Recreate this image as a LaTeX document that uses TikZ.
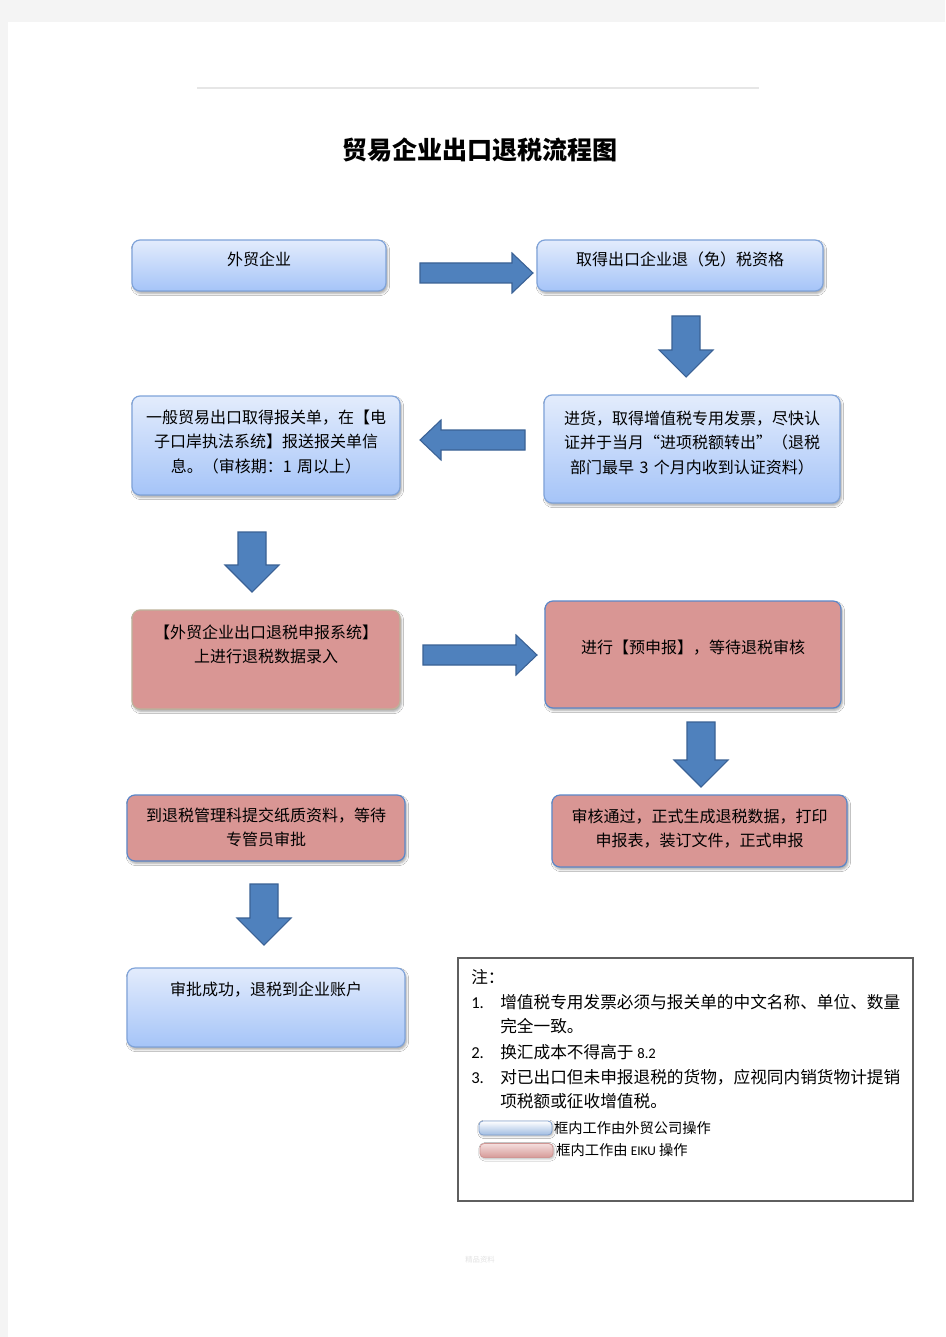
\documentclass[tikz,border=0pt]{standalone}
\usepackage{fontspec}
\newfontfamily\cjk{Noto Sans CJK SC}
\newfontfamily\latinsans{Carlito}
\usetikzlibrary{positioning,shadows.blur}

\definecolor{pagegray}{HTML}{F4F4F4}
\definecolor{boxtop}{HTML}{E3ECFC}
\definecolor{boxbottom}{HTML}{A5C4F8}
\definecolor{boxedge}{HTML}{7FA3D9}
\definecolor{pinkfill}{HTML}{D99694}
\definecolor{pinkedge}{HTML}{5B87C8}
\definecolor{khakiedge}{HTML}{BDB39B}
\definecolor{arrowblue}{HTML}{4F81BD}
\definecolor{arrowedge}{HTML}{3A6195}

\tikzset{
  box/.style={rounded corners=6pt, line width=0.9pt, inner sep=0pt, align=center, anchor=base,
    font=\cjk\fontsize{12}{18.4}\selectfont,
    blur shadow={shadow xshift=1pt, shadow yshift=-1.8pt, shadow blur steps=4, shadow opacity=35}},
  bluebox/.style={box, draw=boxedge, top color=boxtop, bottom color=boxbottom},
  pinkbox/.style={box, draw=pinkedge, fill=pinkfill},
  blockarrow/.style={fill=arrowblue, draw=arrowedge, line width=0.8pt, line join=miter},
  pics/downarr/.style={code={
    \draw[blockarrow] (-14,0) -- (14,0) -- (14,#1-27) -- (27,#1-27) -- (0,#1) -- (-27,#1-27) -- (-14,#1-27) -- cycle;}},
  pics/rightarr/.style={code={
    \draw[blockarrow] (0,-10) -- (#1-21,-10) -- (#1-21,-20) -- (#1,0) -- (#1-21,20) -- (#1-21,10) -- (0,10) -- cycle;}},
  notetext/.style={anchor=base west, inner sep=0pt, font=\cjk\fontsize{12.5}{16}\selectfont},
  numtext/.style={anchor=base west, inner sep=0pt, font=\latinsans\fontsize{12.5}{14}\selectfont},
  legendbar/.style={rounded corners=3pt, line width=0.6pt, minimum width=54.75pt, minimum height=10.5pt, inner sep=0pt,
    blur shadow={shadow xshift=0.8pt, shadow yshift=-1pt, shadow blur steps=3, shadow opacity=30}},
  legendtext/.style={inner sep=0pt, font=\cjk\fontsize{10.7}{13}\selectfont}
}

\begin{document}
\begin{tikzpicture}[x=0.75pt, y=-0.75pt]

\useasboundingbox (0,0) rectangle (945,1337);
\fill[pagegray] (0,0) rectangle (945,1337);
\fill[white] (8,22) rectangle (945,1337);
\draw[color={rgb,255:red,230;green,230;blue,230}, line width=0.8pt] (197,88) -- (759,88);

\node[font=\cjk\bfseries\fontsize{18.8}{22}\selectfont] (title) at (480,150) {贸易企业出口退税流程图};

\node[bluebox, text width=190.5pt, text height=19.5pt, text depth=18.75pt] (waimao) at (259,266) {外贸企业};
\node[bluebox, text width=214.5pt, text height=19.5pt, text depth=18.75pt] (zige) at (680,266) {取得出口企业退（免）税资格};
\node[bluebox, text width=222pt, text height=21.75pt, text depth=59.25pt] (jinhuo) at (692,424)
  {进货，取得增值税专用发票，尽快认\\证并于当月“进项税额转出”（退税\\部门最早 3 个月内收到认证资料）};
\node[bluebox, text width=201pt, text height=20.25pt, text depth=54pt] (baoguan) at (266,423)
  {一般贸易出口取得报关单，在【电\\子口岸执法系统】报送报关单信\\息。（审核期：1 周以上）};
\node[pinkbox, draw=khakiedge, text width=201pt, text height=21pt, text depth=53.25pt] (luru) at (266,638)
  {【外贸企业出口退税申报系统】\\上进行退税数据录入};
\node[pinkbox, text width=222pt, text height=39pt, text depth=41.25pt] (yushen) at (693,653) {进行【预申报】，等待退税审核};
\node[pinkbox, text width=221.25pt, text height=20.25pt, text depth=33.75pt] (shenbao) at (699.5,822)
  {审核通过，正式生成退税数据，打印\\申报表，装订文件，正式申报};
\node[pinkbox, text width=208.5pt, text height=19.5pt, text depth=30pt] (tijiao) at (266,821)
  {到退税管理科提交纸质资料，等待\\专管员审批};
\node[bluebox, text width=208.5pt, text height=20.25pt, text depth=39pt] (chenggong) at (266,995) {审批成功，退税到企业账户};

\pic at (420,273) {rightarr=113};
\pic at (686,316) {downarr=61};
\pic[xscale=-1] at (525,440) {rightarr=105};
\pic at (252,532) {downarr=60};
\pic at (423,655) {rightarr=114};
\pic at (701,722) {downarr=65};
\pic at (264,884) {downarr=61};

\node[draw={rgb,255:red,95;green,95;blue,95}, line width=0.8pt, minimum width=341.25pt, minimum height=182.25pt, inner sep=0pt] (note) at (685.5,1079.5) {};
\node[notetext] (zhu) at (471,983.5) {注：};
\node[numtext] (num1) at (471,1008.5) {1.};
\node[notetext] (item1a) at (500,1008.5) {增值税专用发票必须与报关单的中文名称、单位、数量};
\node[notetext] (item1b) at (500,1032.5) {完全一致。};
\node[numtext] (num2) at (471,1058.5) {2.};
\node[notetext] (item2) at (500,1058.5) {换汇成本不得高于 {\latinsans\fontsize{11}{14}\selectfont 8.2}};
\node[numtext] (num3) at (471,1083.5) {3.};
\node[notetext] (item3a) at (500,1083.5) {对已出口但未申报退税的货物，应视同内销货物计提销};
\node[notetext] (item3b) at (500,1107.5) {项税额或征收增值税。};

\node[legendbar, draw={rgb,255:red,130;green,160;blue,205}, top color=white, bottom color={rgb,255:red,160;green,188;blue,226}] (keyblue) at (515.5,1128) {};
\node[legendtext, right=1pt of keyblue] (keybluetext) {框内工作由外贸公司操作};
\node[legendbar, draw={rgb,255:red,208;green,150;blue,148}, top color={rgb,255:red,244;green,222;blue,221}, bottom color={rgb,255:red,214;green,154;blue,152}] (keypink) at (516.5,1150.5) {};
\node[legendtext, right=2pt of keypink] (keypinktext) {框内工作由 {\latinsans\fontsize{10}{13}\selectfont EIKU} 操作};

\node[text={rgb,255:red,226;green,226;blue,226}, font=\cjk\fontsize{5.5}{6}\selectfont] (footer) at (480,1260) {精品资料};

\end{tikzpicture}
\end{document}
